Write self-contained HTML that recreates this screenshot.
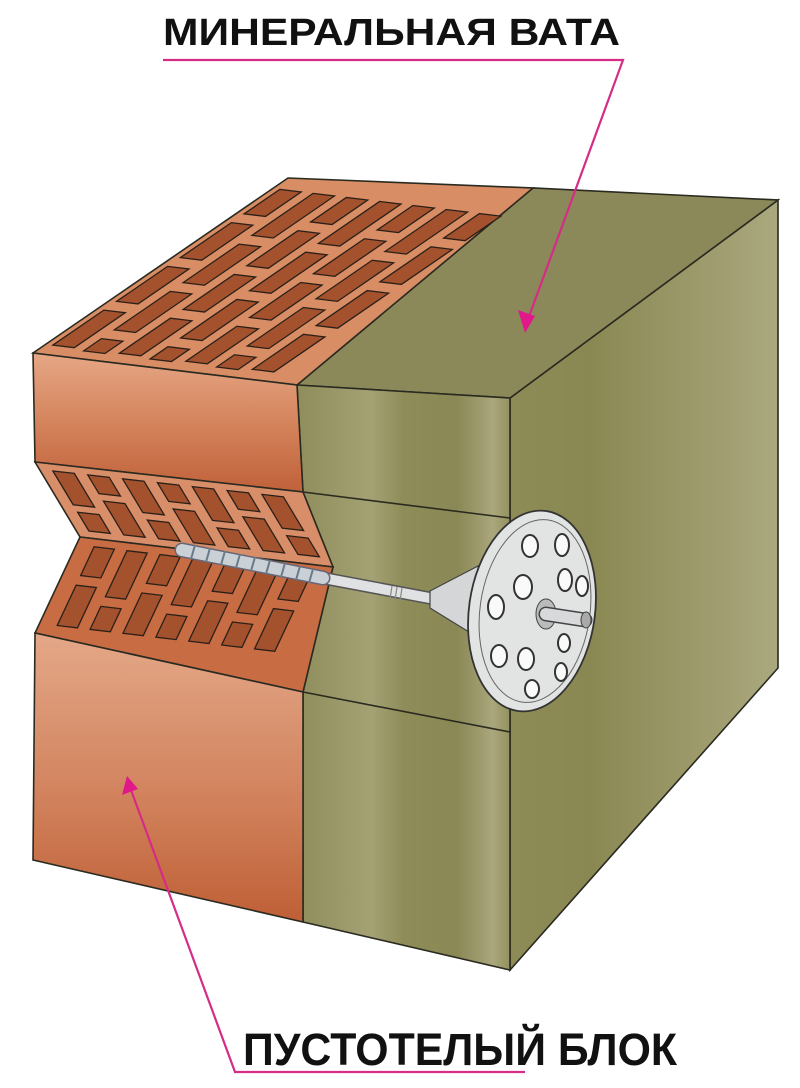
<!DOCTYPE html>
<html><head><meta charset="utf-8"><style>html,body{margin:0;padding:0;background:#fff}svg{display:block}</style></head>
<body>
<svg width="800" height="1088" viewBox="0 0 800 1088" xmlns="http://www.w3.org/2000/svg">
<defs>
<linearGradient id="bf1" x1="0" y1="0" x2="0" y2="1"><stop offset="0" stop-color="#e6a786"/><stop offset="0.5" stop-color="#d4845c"/><stop offset="1" stop-color="#c0613a"/></linearGradient>
<linearGradient id="bf2" x1="0" y1="0" x2="0" y2="1"><stop offset="0" stop-color="#e4a888"/><stop offset="0.6" stop-color="#d0805a"/><stop offset="1" stop-color="#bf5f36"/></linearGradient>
<linearGradient id="wf" x1="0" y1="0" x2="1" y2="0"><stop offset="0" stop-color="#8f8d5b"/><stop offset="0.35" stop-color="#a4a274"/><stop offset="0.5" stop-color="#8e8c58"/><stop offset="0.75" stop-color="#8a8855"/><stop offset="0.92" stop-color="#a9a77c"/><stop offset="1" stop-color="#94925f"/></linearGradient>
<linearGradient id="wr" x1="0" y1="0" x2="1" y2="0"><stop offset="0" stop-color="#8d8b56"/><stop offset="0.3" stop-color="#8a8852"/><stop offset="1" stop-color="#aaa87e"/></linearGradient>
<style>.h{fill:#a4522e;stroke:#2a2018;stroke-width:1.3;vector-effect:non-scaling-stroke}.o{stroke:#2a2a20;stroke-width:1.6;fill:none}</style>
</defs>

<polygon points="510,398 778,200 778,668 510,970" class="o" style="fill:url(#wr)"/>
<polygon points="297,385 533,188 778,200 510,398" class="o" style="fill:#8b895a"/>
<polygon points="297,385 510,398 510,970 303,922 303,692 333,567 303,492" style="fill:url(#wf)" class="o"/>
<line x1="303" y1="492" x2="510" y2="518" class="o"/>
<line x1="303" y1="692" x2="510" y2="732" class="o"/>

<polygon points="33,353 288,178 533,188 297,385" class="o" style="fill:#d88d65"/>
<g transform="matrix(264,32,255,-175,33,353)">
<g transform="scale(0.9,1)">
<rect class="h" x="0.03" y="0.05" width="0.09" height="0.2"/><rect class="h" x="0.03" y="0.3" width="0.09" height="0.2"/><rect class="h" x="0.03" y="0.55" width="0.09" height="0.2"/><rect class="h" x="0.03" y="0.8" width="0.09" height="0.14"/>
<rect class="h" x="0.17" y="0.04" width="0.09" height="0.07"/><rect class="h" x="0.17" y="0.16" width="0.09" height="0.22"/><rect class="h" x="0.17" y="0.43" width="0.09" height="0.22"/><rect class="h" x="0.17" y="0.7" width="0.09" height="0.24"/>
<rect class="h" x="0.31" y="0.05" width="0.09" height="0.2"/><rect class="h" x="0.31" y="0.3" width="0.09" height="0.2"/><rect class="h" x="0.31" y="0.55" width="0.09" height="0.2"/><rect class="h" x="0.31" y="0.8" width="0.09" height="0.14"/>
<rect class="h" x="0.45" y="0.04" width="0.09" height="0.07"/><rect class="h" x="0.45" y="0.16" width="0.09" height="0.22"/><rect class="h" x="0.45" y="0.43" width="0.09" height="0.22"/><rect class="h" x="0.45" y="0.7" width="0.09" height="0.24"/>
<rect class="h" x="0.59" y="0.05" width="0.09" height="0.2"/><rect class="h" x="0.59" y="0.3" width="0.09" height="0.2"/><rect class="h" x="0.59" y="0.55" width="0.09" height="0.2"/><rect class="h" x="0.59" y="0.8" width="0.09" height="0.14"/>
<rect class="h" x="0.73" y="0.04" width="0.09" height="0.07"/><rect class="h" x="0.73" y="0.16" width="0.09" height="0.22"/><rect class="h" x="0.73" y="0.43" width="0.09" height="0.22"/><rect class="h" x="0.73" y="0.7" width="0.09" height="0.24"/>
<rect class="h" x="0.87" y="0.05" width="0.09" height="0.2"/><rect class="h" x="0.87" y="0.3" width="0.09" height="0.2"/><rect class="h" x="0.87" y="0.55" width="0.09" height="0.2"/><rect class="h" x="0.87" y="0.8" width="0.09" height="0.14"/>
</g>
</g>

<polygon points="33,353 297,385 303,492 35,462" style="fill:url(#bf1)" class="o"/>
<polygon points="35,462 303,492 333,567 80,537" class="o" style="fill:#d88e68"/>
<g transform="matrix(268,30,45,75,35,462)">
<rect class="h" x="0.05" y="0.1" width="0.08" height="0.45"/><rect class="h" x="0.05" y="0.65" width="0.08" height="0.25"/>
<rect class="h" x="0.18" y="0.1" width="0.08" height="0.25"/><rect class="h" x="0.18" y="0.45" width="0.08" height="0.45"/>
<rect class="h" x="0.31" y="0.1" width="0.08" height="0.45"/><rect class="h" x="0.31" y="0.65" width="0.08" height="0.25"/>
<rect class="h" x="0.44" y="0.1" width="0.08" height="0.25"/><rect class="h" x="0.44" y="0.45" width="0.08" height="0.45"/>
<rect class="h" x="0.57" y="0.1" width="0.08" height="0.45"/><rect class="h" x="0.57" y="0.65" width="0.08" height="0.25"/>
<rect class="h" x="0.70" y="0.1" width="0.08" height="0.25"/><rect class="h" x="0.70" y="0.45" width="0.08" height="0.45"/>
<rect class="h" x="0.83" y="0.1" width="0.08" height="0.45"/><rect class="h" x="0.83" y="0.65" width="0.08" height="0.25"/>
</g>
<polygon points="80,537 333,567 303,692 35,633" class="o" style="fill:#c86c44"/>
<g transform="matrix(253,30,-45,96,80,537)">
<rect class="h" x="0.07" y="0.08" width="0.08" height="0.3"/><rect class="h" x="0.07" y="0.48" width="0.08" height="0.42"/>
<rect class="h" x="0.2" y="0.08" width="0.08" height="0.48"/><rect class="h" x="0.2" y="0.66" width="0.08" height="0.24"/>
<rect class="h" x="0.33" y="0.08" width="0.08" height="0.3"/><rect class="h" x="0.33" y="0.48" width="0.08" height="0.42"/>
<rect class="h" x="0.46" y="0.08" width="0.08" height="0.48"/><rect class="h" x="0.46" y="0.66" width="0.08" height="0.24"/>
<rect class="h" x="0.59" y="0.08" width="0.08" height="0.3"/><rect class="h" x="0.59" y="0.48" width="0.08" height="0.42"/>
<rect class="h" x="0.72" y="0.08" width="0.08" height="0.48"/><rect class="h" x="0.72" y="0.66" width="0.08" height="0.24"/>
<rect class="h" x="0.85" y="0.08" width="0.08" height="0.3"/><rect class="h" x="0.85" y="0.48" width="0.08" height="0.42"/>
</g>
<polygon points="35,633 303,692 303,922 33,860" style="fill:url(#bf2)" class="o"/>

<line x1="323" y1="578" x2="440" y2="600" stroke="#555" stroke-width="13" stroke-linecap="round"/>
<line x1="323" y1="578" x2="440" y2="600" stroke="#dfe1e2" stroke-width="10" stroke-linecap="round"/>
<line x1="182" y1="550" x2="323" y2="578" stroke="#667" stroke-width="15" stroke-linecap="round"/>
<line x1="182" y1="550" x2="323" y2="578" stroke="#c9d0d6" stroke-width="12" stroke-linecap="round"/>
<path d="M195,545 l-4,14 M210,548 l-4,14 M225,551 l-4,14 M240,554 l-4,14 M255,557 l-4,14 M270,560 l-4,14 M285,563 l-4,14 M300,566 l-4,14 M313,569 l-4,14" stroke="#6a7a88" stroke-width="2"/>
<path d="M392,586 l-2,13 M397,587 l-2,13 M402,588 l-2,13" stroke="#888" stroke-width="1.2"/>
<polygon points="430,591 478,566 482,640 430,608" fill="#d4d6d7" stroke="#444" stroke-width="1.2"/>
<ellipse cx="532" cy="611" rx="63" ry="101" transform="rotate(8 532 611)" fill="#e2e3e3" stroke="#333" stroke-width="1.8"/>
<ellipse cx="535" cy="611" rx="55" ry="92" transform="rotate(8 535 611)" fill="none" stroke="#666" stroke-width="1"/>
<g fill="#fafafa" stroke="#333" stroke-width="2">
<ellipse cx="530" cy="546" rx="8" ry="11"/><ellipse cx="562" cy="545" rx="7" ry="11"/>
<ellipse cx="523" cy="587" rx="9" ry="12"/><ellipse cx="565" cy="580" rx="7" ry="11"/><ellipse cx="582" cy="586" rx="6" ry="10"/>
<ellipse cx="496" cy="607" rx="8" ry="12"/><ellipse cx="564" cy="643" rx="6" ry="9"/>
<ellipse cx="499" cy="656" rx="8" ry="11"/><ellipse cx="526" cy="659" rx="8" ry="11"/><ellipse cx="561" cy="672" rx="6" ry="9"/><ellipse cx="532" cy="689" rx="7" ry="9"/>
</g>
<ellipse cx="546" cy="614" rx="10" ry="15" fill="#bbb" stroke="#444"/>
<line x1="546" y1="614" x2="585" y2="620" stroke="#444" stroke-width="15" stroke-linecap="round"/>
<line x1="546" y1="614" x2="585" y2="620" stroke="#d8d9da" stroke-width="12" stroke-linecap="round"/>
<ellipse cx="586" cy="620" rx="5" ry="8" fill="#aaa" stroke="#444"/>

<polyline points="163,60 623,60 527,322" fill="none" stroke="#d52c86" stroke-width="2.2"/>
<polygon points="518,310 535,316 525,333" fill="#e0188a"/>
<polyline points="525,1072 235,1072 131,790" fill="none" stroke="#d52c86" stroke-width="2.2"/>
<polygon points="122,795 138,789 127,776" fill="#e0188a"/>

<text x="163" y="45" font-family="Liberation Sans, sans-serif" font-weight="bold" font-size="38" textLength="457" lengthAdjust="spacingAndGlyphs" fill="#111">МИНЕРАЛЬНАЯ ВАТА</text>
<text x="243" y="1065" font-family="Liberation Sans, sans-serif" font-weight="bold" font-size="45" textLength="434" lengthAdjust="spacingAndGlyphs" fill="#111">ПУСТОТЕЛЫЙ БЛОК</text>
</svg>
</body></html>
